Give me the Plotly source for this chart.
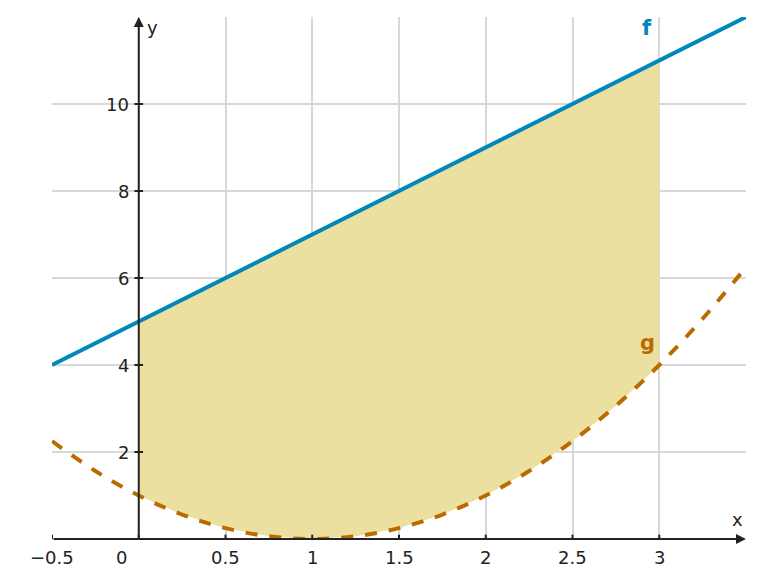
import plotly.graph_objects as go

x_pts = [-0.5, -0.25, 0, 0.25, 0.5, 0.75, 1, 1.25, 1.5, 1.75, 2, 2.25, 2.5, 2.75, 3, 3.25, 3.5]
f_vals = [4, 4.5, 5, 5.5, 6, 6.5, 7, 7.5, 8, 8.5, 9, 9.5, 10, 10.5, 11, 11.5, 12]
g_vals = [2.25, 1.5625, 1, 0.5625, 0.25, 0.0625, 0, 0.0625, 0.25, 0.5625, 1, 1.5625, 2.25, 3.0625, 4, 5.0625, 6.25]
x_ticks = [-0.5, 0, 0.5, 1, 1.5, 2, 2.5, 3]
x_tick_labels = ["−0.5", "0", "0.5", "1", "1.5", "2", "2.5", "3"]
y_ticks = [2, 4, 6, 8, 10]
y_tick_labels = ["2", "4", "6", "8", "10"]

i0, i3 = x_pts.index(0), x_pts.index(3)
fx = x_pts[i0:i3+1] + x_pts[i0:i3+1][::-1]
fy = g_vals[i0:i3+1] + f_vals[i0:i3+1][::-1]

fig = go.Figure()
fig.add_trace(go.Scatter(x=fx, y=fy, fill="toself", fillcolor="rgb(236,224,161)",
                         line=dict(width=0), mode="lines", hoverinfo="skip"))
fig.add_trace(go.Scatter(x=x_pts, y=f_vals, mode="lines", line=dict(color="#0088bb", width=4)))
fig.add_trace(go.Scatter(x=x_pts, y=g_vals, mode="lines", line=dict(color="#bb6a00", width=4, dash="dash"), line_shape="spline"))

font = dict(family="DejaVu Sans", size=18, color="#222")
ann = []
for v, t in zip(x_ticks, x_tick_labels):
    ann.append(dict(x=v - (0.1 if v == 0 else 0), y=0, text=t, showarrow=False, yshift=-18, font=font))
for v, t in zip(y_ticks, y_tick_labels):
    ann.append(dict(x=0, y=v, text=t, showarrow=False, xanchor="right", xshift=-8, font=font))
ann.append(dict(x=0, y=11.75, text="y", showarrow=False, xanchor="left", xshift=6, font=font))
ann.append(dict(x=3.45, y=0, text="x", showarrow=False, yshift=20, font=font))
ann.append(dict(x=2.93, y=11.75, text="<b>f</b>", showarrow=False, font=dict(family="DejaVu Sans", size=21, color="#0088bb")))
ann.append(dict(x=2.93, y=4.5, text="<b>g</b>", showarrow=False, font=dict(family="DejaVu Sans", size=21, color="#bb6a00")))
ann.append(dict(x=3.5, y=0, ax=-0.5, ay=0, xref="x", yref="y", axref="x", ayref="y", text="",
                showarrow=True, arrowhead=2, arrowsize=1, arrowwidth=2, arrowcolor="#222"))
ann.append(dict(x=0, y=12, ax=0, ay=0, xref="x", yref="y", axref="x", ayref="y", text="",
                showarrow=True, arrowhead=2, arrowsize=1, arrowwidth=2, arrowcolor="#222"))

shapes = []
for v in y_ticks:
    shapes.append(dict(type="line", x0=-0.025, x1=0.025, y0=v, y1=v, line=dict(color="#222", width=2)))
for v in x_ticks:
    shapes.append(dict(type="line", x0=v, x1=v, y0=-0.1, y1=0.1, line=dict(color="#222", width=2)))

fig.update_layout(
    width=764, height=587, showlegend=False,
    margin=dict(l=44, r=26, t=9, b=56),
    plot_bgcolor="white", paper_bgcolor="white",
    xaxis=dict(range=[-0.5, 3.5], tickvals=[0, 0.5, 1, 1.5, 2, 2.5, 3], showticklabels=False,
               gridcolor="#d8d8d8", gridwidth=1.5, zeroline=False, showline=False),
    yaxis=dict(range=[0, 12], tickvals=y_ticks, showticklabels=False,
               gridcolor="#d8d8d8", gridwidth=1.5, zeroline=False, showline=False),
    annotations=ann, shapes=shapes,
)
fig.write_html("out.html")
